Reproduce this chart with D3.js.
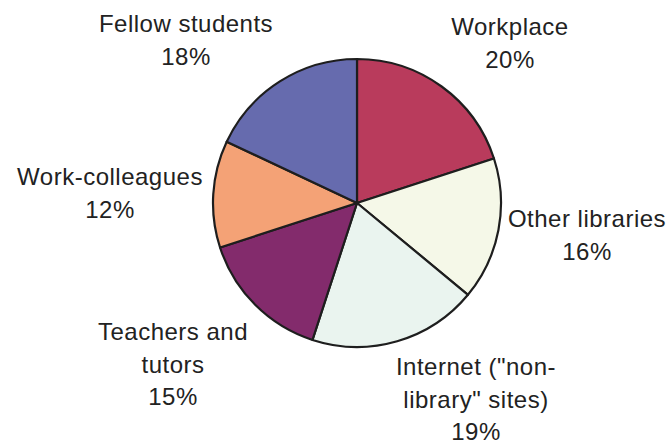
<!DOCTYPE html>
<html>
<head>
<meta charset="utf-8">
<script src="https://cdn.jsdelivr.net/npm/d3@7"></script>
<style>
  html, body { margin: 0; padding: 0; background: #fff; }
  svg { display: block; }
  text { font-family: "Liberation Sans", Arial, sans-serif; fill: #222; }
</style>
</head>
<body>
<svg id="chart" width="668" height="445"></svg>
<script>
// Sources of information, share of respondents (%)
const categories = ["Workplace", "Other libraries", "Internet (\"non-library\" sites)", "Teachers and tutors", "Work-colleagues", "Fellow students"];
const values = [20, 16, 19, 15, 12, 18];
const colors = ["#B93B5C", "#F5F8E8", "#EAF4EF", "#832B6C", "#F4A276", "#666BAE"];
// Label lines as set on the chart (category split over lines, then the percentage)
const labelLines = [
  ["Workplace"],
  ["Other libraries"],
  ["Internet (\"non-", "library\" sites)"],
  ["Teachers and", "tutors"],
  ["Work-colleagues"],
  ["Fellow students"]
];
// Label anchor points (centre x, first baseline y)
const labelX = [510, 587, 476, 173, 110, 186];
const labelY = [35, 227, 375, 340, 185, 32];

const svg = d3.select("#chart");
const cx = 357, cy = 203, r = 144;

const pie = d3.pie().sort(null).value(d => d)(values);
const arc = d3.arc().innerRadius(0).outerRadius(r);
const color = d3.scaleOrdinal().domain(categories).range(colors);

const g = svg.append("g").attr("transform", `translate(${cx},${cy})`);
g.selectAll("path")
  .data(pie)
  .join("path")
  .attr("d", arc)
  .attr("fill", (d, i) => color(categories[i]))
  .attr("stroke", "#1e1e1e")
  .attr("stroke-width", 2.2)
  .attr("stroke-linejoin", "round");

const lineH = 32.5;
const labels = svg.selectAll("text.lbl")
  .data(categories)
  .join("text")
  .attr("class", "lbl")
  .attr("text-anchor", "middle")
  .attr("font-size", 24)
  .attr("letter-spacing", 0.5);

labels.each(function(c, i) {
  const t = d3.select(this);
  const lines = labelLines[i].concat([values[i] + "%"]);
  lines.forEach((ln, k) => {
    t.append("tspan")
      .attr("x", labelX[i])
      .attr("y", labelY[i] + k * lineH)
      .text(ln);
  });
});
</script>
</body>
</html>
